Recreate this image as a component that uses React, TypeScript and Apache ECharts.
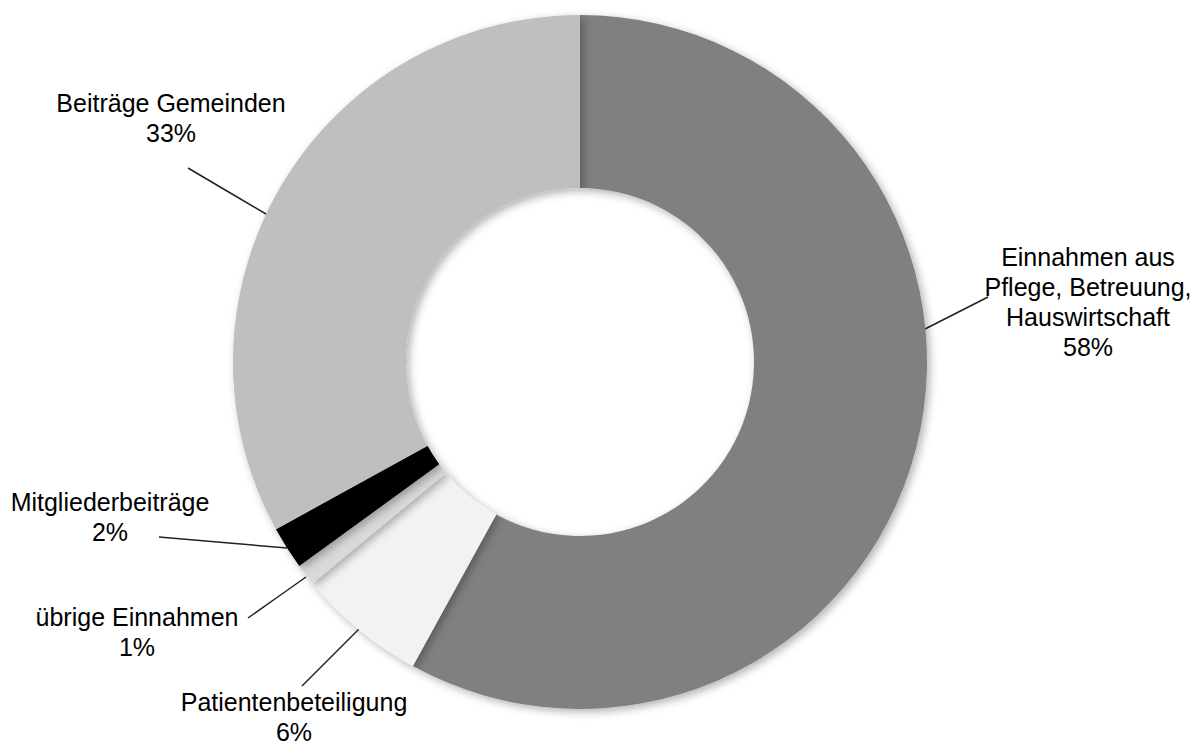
import React, { useEffect, useRef } from "react";
import * as echarts from "echarts";

const categories = [
  "Einnahmen aus\nPflege, Betreuung,\nHauswirtschaft",
  "Patientenbeteiligung",
  "übrige Einnahmen",
  "Mitgliederbeiträge",
  "Beiträge Gemeinden",
];
const values = [58, 6, 1, 2, 33];
const colors = ["#808080", "#f2f2f2", "#d9d9d9", "#000000", "#bfbfbf"];

// label anchor (centre of text block) in px, per slice
const labelPos: [number, number][] = [
  [1088, 302],
  [294, 717],
  [137, 632],
  [110, 517],
  [171, 118],
];
// leader lines: [start on ring, end near text]
const leaderLines: [number, number, number, number][] = [
  [925, 329, 988, 297],
  [360, 628, 302, 686],
  [306, 577, 248, 618],
  [287, 548, 159, 537],
  [271, 217, 188, 168],
];

export default function App() {
  const ref = useRef<HTMLDivElement>(null);
  useEffect(() => {
    document.body.style.margin = "0";
    const chart = echarts.init(ref.current!, undefined, { renderer: "svg" });
    chart.setOption({
      animation: false,
      backgroundColor: "#ffffff",
      series: [
        {
          type: "pie",
          center: [580, 362],
          radius: [174, 347],
          startAngle: 90,
          clockwise: true,
          percentPrecision: 0,
          data: categories.map((c, i) => ({
            name: c,
            value: values[i],
            itemStyle: { color: colors[i] },
          })),
          itemStyle: {
            borderWidth: 0,
            shadowBlur: 8,
            shadowOffsetX: 3,
            shadowOffsetY: 3,
            shadowColor: "rgba(0,0,0,0.3)",
          },
          label: {
            show: true,
            formatter: "{b}\n{d}%",
            fontFamily: "Liberation Sans, Arial, sans-serif",
            fontSize: 25,
            lineHeight: 30,
            color: "#000",
            align: "center",
          },
          labelLine: {
            show: true,
            length: 20,
            length2: 10,
            lineStyle: { color: "#222", width: 1.5 },
          },
          labelLayout: (params: any) => {
            const i = params.dataIndex;
            const p = labelPos[i];
            const l = leaderLines[i];
            return {
              x: p[0],
              y: p[1],
              align: "center",
              verticalAlign: "middle",
              labelLinePoints: [
                [l[0], l[1]],
                [(l[0] + l[2]) / 2, (l[1] + l[3]) / 2],
                [l[2], l[3]],
              ],
            };
          },
          emphasis: { disabled: true },
        },
      ],
    });
    return () => chart.dispose();
  }, []);
  return <div ref={ref} style={{ width: 1195, height: 749 }} />;
}
